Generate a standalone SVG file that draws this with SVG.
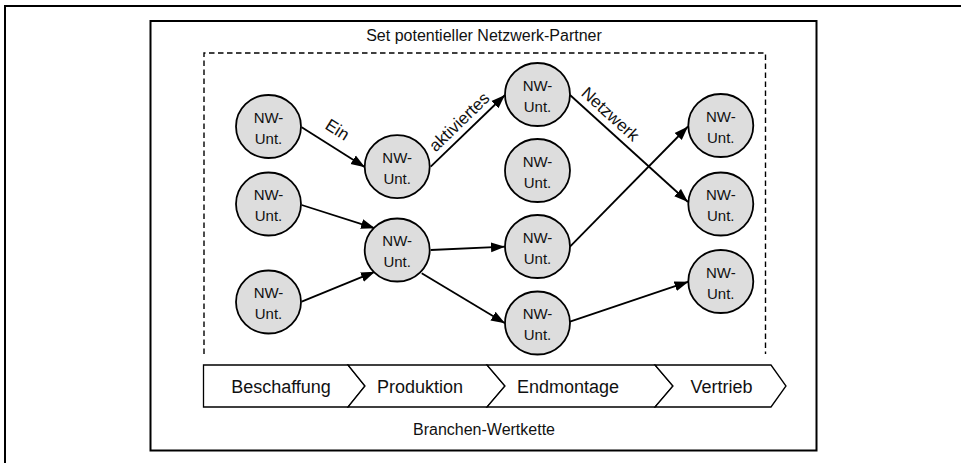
<svg xmlns="http://www.w3.org/2000/svg" width="961" height="463" viewBox="0 0 961 463">
  <style>
    .frame { fill: none; stroke: #000; stroke-width: 2; }
    .dash { fill: none; stroke: #000; stroke-width: 1.4; stroke-dasharray: 5.5 3.5; }
    .node ellipse { fill: #dddddd; stroke: #000; stroke-width: 1.8; }
    .node text { font-family: "Liberation Sans", Arial, sans-serif; font-size: 15px; text-anchor: middle; fill: #111; }
    .edge { stroke: #000; stroke-width: 1.8; fill: none; marker-end: url(#arrow); }
    .lbl { font-family: "Liberation Sans", Arial, sans-serif; font-size: 17px; text-anchor: middle; fill: #111; }
    .chev { fill: #fff; stroke: #000; stroke-width: 1.3; }
    .stage { font-family: "Liberation Sans", Arial, sans-serif; font-size: 18px; text-anchor: middle; fill: #111; }
    .caption { font-family: "Liberation Sans", Arial, sans-serif; font-size: 16px; text-anchor: middle; fill: #111; }
  </style>
  <defs>
    <marker id="arrow" markerUnits="userSpaceOnUse" markerWidth="15" markerHeight="11" refX="14" refY="5.5" orient="auto">
      <path d="M0,0.5 L14,5.5 L0,10.5 z" fill="#000"/>
    </marker>
  </defs>

  <rect width="961" height="463" fill="#fff"/>

  <!-- page frame: top and left edges only -->
  <path class="frame" d="M5,463 V6 H961"/>

  <!-- outer box -->
  <rect class="frame" x="150.5" y="21" width="666" height="429.5"/>
  <text class="caption" x="484" y="41">Set potentieller Netzwerk-Partner</text>

  <!-- dashed candidate area, open at the bottom -->
  <path class="dash" d="M204,354 V53 H765.5 V354"/>

  <!-- connectors -->
  <g id="connectors">
    <line class="edge" x1="301.7" y1="127.3" x2="365" y2="167.3"/>
    <line class="edge" x1="430.7" y1="166.7" x2="505" y2="95"/>
    <line class="edge" x1="570" y1="95" x2="688" y2="202"/>
    <line class="edge" x1="570" y1="246.7" x2="688" y2="126.5"/>
    <line class="edge" x1="301.7" y1="205" x2="375" y2="228.3"/>
    <line class="edge" x1="301.7" y1="301.7" x2="375" y2="271.7"/>
    <line class="edge" x1="430.7" y1="250" x2="505" y2="246.7"/>
    <line class="edge" x1="421.7" y1="273.3" x2="505" y2="323.3"/>
    <line class="edge" x1="570" y1="321.7" x2="688.5" y2="281.7"/>
    <text class="lbl" transform="translate(337.5,129.5) rotate(32.3)" y="6">Ein</text>
    <text class="lbl" transform="translate(459,121.7) rotate(-44)" y="6">aktiviertes</text>
    <text class="lbl" transform="translate(610.5,114) rotate(42.3)" y="6">Netzwerk</text>
  </g>

  <!-- nodes -->
  <g id="n-a1" class="node"><ellipse cx="268.5" cy="126.5" rx="32.5" ry="31.5"/><text x="268.5" y="122.8">NW-</text><text x="268.5" y="143.5">Unt.</text></g>
  <g id="n-a2" class="node"><ellipse cx="268.5" cy="204" rx="32.5" ry="31.5"/><text x="268.5" y="200.3">NW-</text><text x="268.5" y="221">Unt.</text></g>
  <g id="n-a3" class="node"><ellipse cx="268.5" cy="302" rx="32.5" ry="31.5"/><text x="268.5" y="298.3">NW-</text><text x="268.5" y="319">Unt.</text></g>
  <g id="n-b1" class="node"><ellipse cx="397.2" cy="166.7" rx="32.5" ry="31.5"/><text x="397.2" y="163">NW-</text><text x="397.2" y="183.7">Unt.</text></g>
  <g id="n-b2" class="node"><ellipse cx="397.2" cy="250" rx="32.5" ry="31.5"/><text x="397.2" y="246.3">NW-</text><text x="397.2" y="267">Unt.</text></g>
  <g id="n-c1" class="node"><ellipse cx="537.5" cy="94.5" rx="32.5" ry="31.5"/><text x="537.5" y="90.8">NW-</text><text x="537.5" y="111.5">Unt.</text></g>
  <g id="n-c2" class="node"><ellipse cx="537.5" cy="170.5" rx="32.5" ry="31.5"/><text x="537.5" y="166.8">NW-</text><text x="537.5" y="187.5">Unt.</text></g>
  <g id="n-c3" class="node"><ellipse cx="537.5" cy="246.5" rx="32.5" ry="31.5"/><text x="537.5" y="242.8">NW-</text><text x="537.5" y="263.5">Unt.</text></g>
  <g id="n-c4" class="node"><ellipse cx="537.5" cy="323" rx="32.5" ry="31.5"/><text x="537.5" y="319.3">NW-</text><text x="537.5" y="340">Unt.</text></g>
  <g id="n-d1" class="node"><ellipse cx="720.8" cy="125.5" rx="32.5" ry="31.5"/><text x="720.8" y="121.8">NW-</text><text x="720.8" y="142.5">Unt.</text></g>
  <g id="n-d2" class="node"><ellipse cx="720.8" cy="204" rx="32.5" ry="31.5"/><text x="720.8" y="200.3">NW-</text><text x="720.8" y="221">Unt.</text></g>
  <g id="n-d3" class="node"><ellipse cx="720.8" cy="281.5" rx="32.5" ry="31.5"/><text x="720.8" y="277.8">NW-</text><text x="720.8" y="298.5">Unt.</text></g>

  <!-- value chain -->
  <g id="chain">
    <polygon class="chev" points="203.5,365 348,365 365,386 348,407 203.5,407"/>
    <polygon class="chev" points="348,365 487,365 505,386 487,407 348,407 365,386"/>
    <polygon class="chev" points="487,365 655,365 673,386 655,407 487,407 505,386"/>
    <polygon class="chev" points="655,365 771,365 786,386 771,407 655,407 673,386"/>
    <text class="stage" x="281" y="393">Beschaffung</text>
    <text class="stage" x="420" y="393">Produktion</text>
    <text class="stage" x="568" y="393">Endmontage</text>
    <text class="stage" x="721.5" y="393">Vertrieb</text>
  </g>
  <text class="caption" x="484" y="435">Branchen-Wertkette</text>
</svg>
